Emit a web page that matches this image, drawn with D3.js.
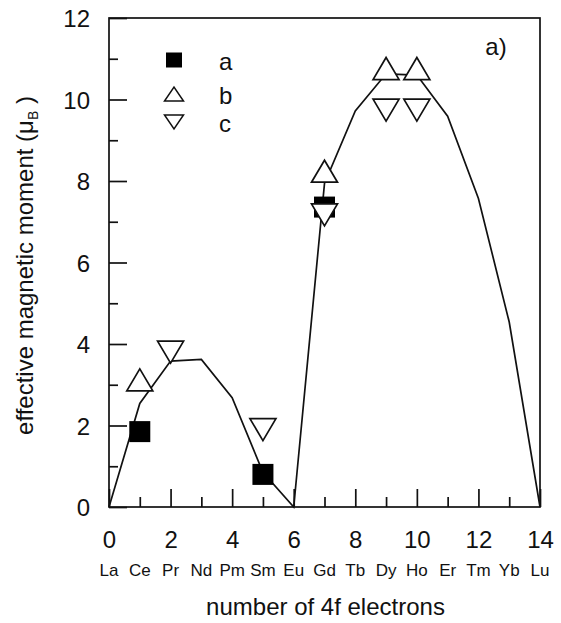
<!DOCTYPE html>
<html>
<head>
<meta charset="utf-8">
<script src="https://cdn.jsdelivr.net/npm/d3@7"></script>
<style>
  body { margin: 0; background: #fff; }
  text { font-family: "Liberation Sans", Arial, sans-serif; fill: #111; }
</style>
</head>
<body>
<div id="chart-div"></div>
<script>
// Script globals
const CHART_WIDTH = 561
const CHART_HEIGHT = 623

// data
const electrons = [0, 1, 2, 3, 4, 5, 6, 7, 8, 9, 10, 11, 12, 13, 14]
const elements = ["La", "Ce", "Pr", "Nd", "Pm", "Sm", "Eu", "Gd", "Tb", "Dy", "Ho", "Er", "Tm", "Yb", "Lu"]
const theory = [0, 2.54, 3.58, 3.62, 2.68, 0.85, 0, 7.94, 9.72, 10.63, 10.6, 9.59, 7.57, 4.54, 0]

const seriesA = [{x: 1, y: 1.85}, {x: 5, y: 0.8}, {x: 7, y: 7.36}]
const seriesB = [{x: 1, y: 3.12}, {x: 7, y: 8.24}, {x: 9, y: 10.76}, {x: 10, y: 10.76}]
const seriesC = [{x: 2, y: 3.8}, {x: 5, y: 1.9}, {x: 7, y: 7.17}, {x: 9, y: 9.74}, {x: 10, y: 9.74}]

const legendNames = ["a", "b", "c"]
const xTicks = [0, 2, 4, 6, 8, 10, 12, 14]
const yTicks = [0, 2, 4, 6, 8, 10, 12]

init();

function init () {
  const svg = d3.select("#chart-div").append("svg")
    .attr("width", CHART_WIDTH)
    .attr("height", CHART_HEIGHT)

  const marginTop = 18
  const marginRight = 21
  const marginBottom = 116
  const marginLeft = 109

  const x = d3.scaleLinear()
    .domain([0, 14])
    .range([marginLeft, CHART_WIDTH - marginRight])

  const y = d3.scaleLinear()
    .domain([0, 12])
    .range([CHART_HEIGHT - marginBottom, marginTop])

  // minor ticks (inside)
  svg.append("g")
    .attr("transform", `translate(${marginLeft},0)`)
    .call(d3.axisLeft(y).tickValues([1, 3, 5, 7, 9, 11]).tickSizeInner(-9).tickSizeOuter(0).tickFormat(""))
    .call(g => g.select(".domain").remove())
  svg.append("g")
    .attr("transform", `translate(0,${y(0)})`)
    .call(d3.axisBottom(x).tickValues([1, 3, 5, 7, 9, 11, 13]).tickSizeInner(-10).tickSizeOuter(0).tickFormat(""))
    .call(g => g.select(".domain").remove())

  // major ticks with labels
  const yAxis = svg.append("g")
    .attr("transform", `translate(${marginLeft},0)`)
    .call(d3.axisLeft(y).tickValues(yTicks).tickSizeInner(-18).tickSizeOuter(0).tickPadding(19))
  yAxis.select(".domain").remove()
  yAxis.selectAll("text").attr("font-size", 24).attr("font-family", null).attr("dy", "0.36em")

  const xAxis = svg.append("g")
    .attr("transform", `translate(0,${y(0)})`)
    .call(d3.axisBottom(x).tickValues(xTicks).tickSizeInner(-18).tickSizeOuter(0).tickPadding(24))
  xAxis.select(".domain").remove()
  xAxis.selectAll("text").attr("font-size", 24).attr("font-family", null)

  svg.selectAll(".tick line").attr("stroke", "#111").attr("stroke-width", 1.7)

  // frame
  svg.append("rect")
    .attr("x", x(0)).attr("y", y(12))
    .attr("width", x(14) - x(0)).attr("height", y(0) - y(12))
    .attr("fill", "none").attr("stroke", "#111").attr("stroke-width", 1.7)

  // element names under the numbers
  svg.append("g").selectAll("text")
    .data(electrons)
    .join("text")
      .attr("x", d => x(d))
      .attr("y", 576)
      .attr("text-anchor", "middle")
      .attr("font-size", 17)
      .text(d => elements[d])

  // axis titles
  svg.append("text")
    .attr("x", (x(0) + x(14)) / 2 + 1)
    .attr("y", 615)
    .attr("text-anchor", "middle")
    .attr("font-size", 24)
    .text("number of 4f electrons")

  const yLabel = svg.append("text")
    .attr("transform", `translate(33,${(y(0) + y(12)) / 2 + 3}) rotate(-90)`)
    .attr("text-anchor", "middle")
    .attr("font-size", 24)
  yLabel.append("tspan").text("effective magnetic moment (\u03bc")
  yLabel.append("tspan").attr("font-size", 14).attr("dy", 5).text("B")
  yLabel.append("tspan").attr("dy", -5).text(" )")

  svg.append("text")
    .attr("x", 496).attr("y", 55)
    .attr("text-anchor", "middle")
    .attr("font-size", 24)
    .text("a)")

  // theory curve
  const line = d3.line()
    .x((d, i) => x(electrons[i]))
    .y(d => y(d))
  svg.append("path")
    .datum(theory)
    .attr("d", line)
    .attr("fill", "none")
    .attr("stroke", "#111")
    .attr("stroke-width", 1.7)

  const upTri = (w, h) => `M${-w / 2},${h / 2}L${w / 2},${h / 2}L0,${-h / 2}Z`
  const downTri = (w, h) => `M${-w / 2},${-h / 2}L${w / 2},${-h / 2}L0,${h / 2}Z`

  // series a: filled squares
  svg.append("g").selectAll("rect")
    .data(seriesA)
    .join("rect")
      .attr("x", d => x(d.x) - 10.5)
      .attr("y", d => y(d.y) - 10.5)
      .attr("width", 21).attr("height", 21)
      .attr("fill", "#000")

  // series b: open up triangles
  svg.append("g").selectAll("path")
    .data(seriesB)
    .join("path")
      .attr("transform", d => `translate(${x(d.x)},${y(d.y)})`)
      .attr("d", upTri(26, 22))
      .attr("fill", "#fff").attr("stroke", "#111").attr("stroke-width", 1.7)

  // series c: open down triangles
  svg.append("g").selectAll("path")
    .data(seriesC)
    .join("path")
      .attr("transform", d => `translate(${x(d.x)},${y(d.y)})`)
      .attr("d", downTri(26, 22))
      .attr("fill", "#fff").attr("stroke", "#111").attr("stroke-width", 1.7)

  // legend
  const legendY = [60, 94, 122]
  const legend = svg.append("g")
  legend.append("rect")
    .attr("x", 174 - 8).attr("y", legendY[0] - 7.5)
    .attr("width", 16).attr("height", 15).attr("fill", "#000")
  legend.append("path")
    .attr("transform", `translate(174,${legendY[1]})`)
    .attr("d", upTri(19, 14))
    .attr("fill", "#fff").attr("stroke", "#111").attr("stroke-width", 1.5)
  legend.append("path")
    .attr("transform", `translate(174,${legendY[2]})`)
    .attr("d", downTri(19, 14))
    .attr("fill", "#fff").attr("stroke", "#111").attr("stroke-width", 1.5)
  legend.selectAll("text")
    .data(legendNames)
    .join("text")
      .attr("x", 219)
      .attr("y", (d, i) => legendY[i] + 9.5)
      .attr("font-size", 24)
      .text(d => d)
}
</script>
</body>
</html>
